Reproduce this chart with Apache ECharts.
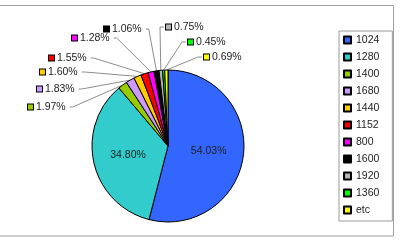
<!DOCTYPE html>
<html>
<head>
<meta charset="utf-8">
<script src="https://cdn.jsdelivr.net/npm/echarts@6/dist/echarts.min.js"></script>
<style>
html, body { margin: 0; padding: 0; background: #fff; }
#chart { width: 400px; height: 242px; }
</style>
</head>
<body>
<div id="chart"></div>
<script>
const resolutions = ["1024", "1280", "1400", "1680", "1440", "1152", "800", "1600", "1920", "1360", "etc"];
const shares = [54.03, 34.80, 1.97, 1.83, 1.60, 1.55, 1.28, 1.06, 0.75, 0.45, 0.69];

const sliceColors = ["#3366ff", "#33cccc", "#99cc00", "#cc99ff", "#ffcc00", "#ff0000", "#ff00ff", "#000000", "#b4b4b4", "#00ff00", "#ffff00"];

// outside label spots: [left x, middle y, side the leader line leaves from]
const labelSpots = [null, null,
	[28, 107, "right"], [37, 89, "right"], [40, 72, "right"], [49, 58, "right"],
	[72, 38, "right"], [104, 29, "right"],
	[166, 27, "left"], [188, 42, "left"], [204, 57, "left"]];

const font = "'Liberation Sans', Arial, sans-serif";
const ink = "#222222";

const chart = echarts.init(document.getElementById("chart"), null, { renderer: "canvas" });

const rich = {};
sliceColors.forEach((c, i) => {
	rich["b" + i] = { width: 5, height: 5, backgroundColor: c, borderColor: "#000", borderWidth: 1 };
});

chart.setOption({
	animation: false,
	color: sliceColors,
	textStyle: { fontFamily: font },
	graphic: [{
		type: "rect",
		shape: { x: -2, y: 5.5, width: 395.5, height: 230.5 },
		style: { fill: "none", stroke: "#a0a0a0", lineWidth: 1 },
		silent: true
	}],
	legend: {
		orient: "vertical",
		left: 339,
		top: 31,
		padding: [3, 13, 5, 4],
		itemGap: 5,
		itemWidth: 7,
		itemHeight: 7,
		icon: "rect",
		borderColor: "#9a9a9a",
		borderWidth: 1,
		textStyle: { fontFamily: font, fontSize: 10.5, color: ink, lineHeight: 12 },
		data: resolutions
	},
	series: [{
		type: "pie",
		center: [168, 146],
		radius: 76,
		startAngle: 90,
		clockwise: true,
		avoidLabelOverlap: false,
		itemStyle: { borderColor: "#000", borderWidth: 1 },
		label: {
			position: "outside",
			fontFamily: font,
			fontSize: 10.5,
			color: ink,
			formatter: p => `{b${p.dataIndex}|} ${p.value.toFixed(2)}%`,
			rich
		},
		labelLine: { show: true, lineStyle: { color: "#8c8c8c", width: 1 } },
		labelLayout: params => {
			const spot = labelSpots[params.dataIndex];
			if (!spot) return {};
			const start = params.labelLinePoints ? params.labelLinePoints[0] : [spot[0], spot[1]];
			let end, mid;
			if (spot[2] === "right") {
				end = [spot[0] + params.labelRect.width + 3, spot[1]];
				mid = [end[0] + 3, spot[1]];
			} else {
				end = [spot[0] - 2, spot[1]];
				mid = [end[0] - 4, spot[1]];
			}
			return {
				x: spot[0],
				y: spot[1],
				align: "left",
				verticalAlign: "middle",
				labelLinePoints: [start, mid, end]
			};
		},
		emphasis: { disabled: true },
		data: resolutions.map((name, i) => ({
			name,
			value: shares[i],
			label: i < 2 ? { position: "inside", formatter: p => `${p.value.toFixed(2)}%` } : undefined,
			labelLine: i < 2 ? { show: false } : undefined
		}))
	}]
});
</script>
</body>
</html>
